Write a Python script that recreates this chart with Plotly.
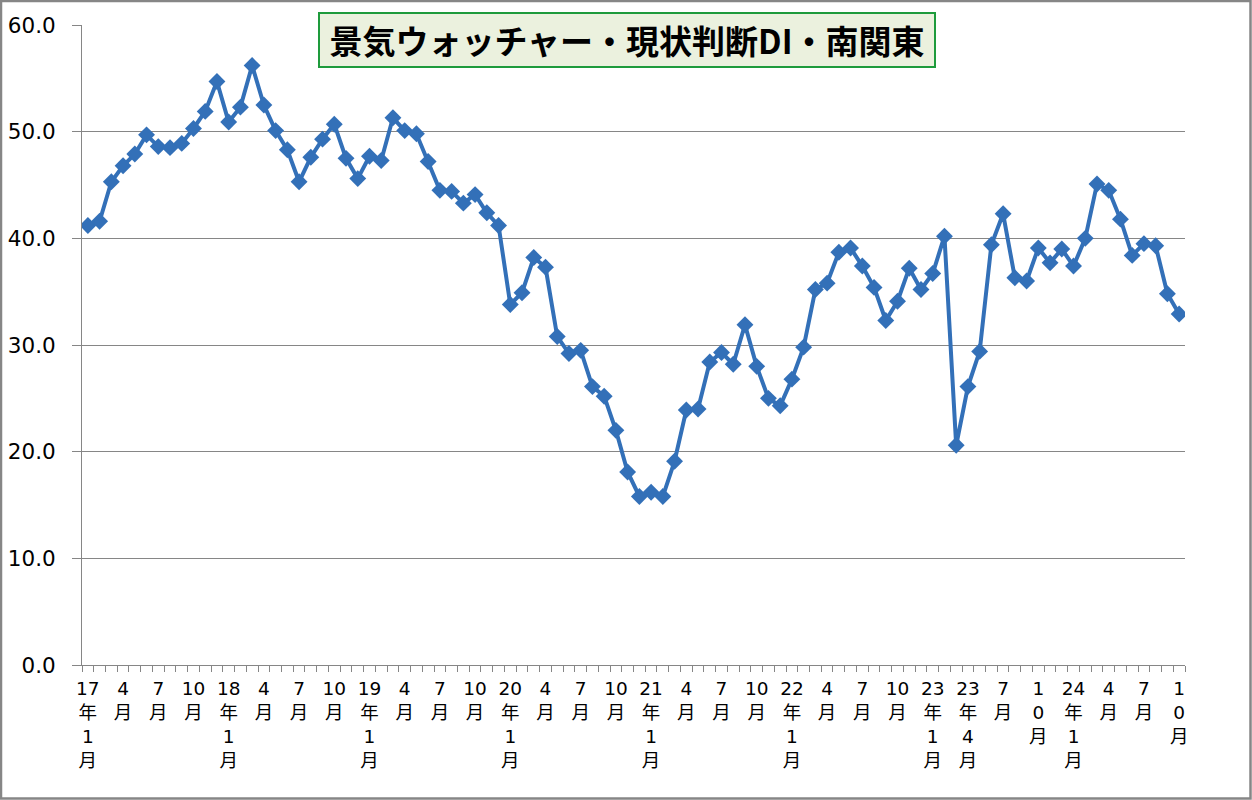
import plotly.graph_objects as go

# ---- data ----
years = ["17", "18", "19", "20", "21", "22", "23", "24"]
categories = [f"{y}年{m}月" for y in years for m in range(1, 13)][:94]

values = [
    41.2, 41.6, 45.3, 46.8, 47.9, 49.7, 48.6, 48.5, 48.9, 50.3, 51.9, 54.7,
    50.9, 52.3, 56.2, 52.5, 50.1, 48.3, 45.3, 47.6, 49.3, 50.7, 47.5, 45.6,
    47.7, 47.3, 51.3, 50.1, 49.8, 47.2, 44.5, 44.4, 43.3, 44.1, 42.4, 41.2,
    33.8, 34.9, 38.2, 37.3, 30.8, 29.2, 29.5, 26.1, 25.2, 22.0, 18.1, 15.8,
    16.2, 15.8, 19.1, 23.9, 24.0, 28.4, 29.3, 28.2, 31.9, 28.0, 25.0, 24.3,
    26.8, 29.8, 35.2, 35.8, 38.7, 39.1, 37.4, 35.4, 32.3, 34.1, 37.2, 35.2,
    36.7, 40.2, 20.6, 26.1, 29.4, 39.4, 42.3, 36.3, 36.0, 39.1, 37.7, 39.0,
    37.4, 40.0, 45.1, 44.5, 41.8, 38.4, 39.5, 39.3, 34.8, 32.9,
]

label_text = [
    "17<br>年<br>1<br>月", "4<br>月", "7<br>月", "10<br>月",
    "18<br>年<br>1<br>月", "4<br>月", "7<br>月", "10<br>月",
    "19<br>年<br>1<br>月", "4<br>月", "7<br>月", "10<br>月",
    "20<br>年<br>1<br>月", "4<br>月", "7<br>月", "10<br>月",
    "21<br>年<br>1<br>月", "4<br>月", "7<br>月", "10<br>月",
    "22<br>年<br>1<br>月", "4<br>月", "7<br>月", "10<br>月",
    "23<br>年<br>1<br>月", "23<br>年<br>4<br>月", "7<br>月", "1<br>0<br>月",
    "24<br>年<br>1<br>月", "4<br>月", "7<br>月", "1<br>0<br>月",
]
label_cats = categories[::3]

y_ticks = [0, 10, 20, 30, 40, 50, 60]

title_text = "景気ウォッチャー・現状判断DI・南関東"

# ---- figure ----
label_map = dict(zip(label_cats, label_text))
tick_text = [label_map.get(c, "") for c in categories]

GRID = "#868686"
LINE = "#3370B8"

fig = go.Figure()
fig.add_trace(go.Scatter(
    x=categories, y=values, mode="lines+markers",
    line=dict(color=LINE, width=4),
    marker=dict(symbol="diamond", size=13, color=LINE),
    showlegend=False, hoverinfo="x+y",
))

fig.update_layout(
    width=1252, height=800,
    margin=dict(l=82, r=67, t=25, b=135, pad=0),
    paper_bgcolor="white", plot_bgcolor="white",
    xaxis=dict(
        type="category", automargin=False,
        range=[-0.5, len(categories) - 0.5],
        tickmode="array", tickvals=categories, ticktext=tick_text,
        tickson="boundaries",
        ticks="outside", ticklen=6, tickcolor=GRID, tickwidth=1,
        showline=True, linecolor=GRID, linewidth=1,
        showgrid=False, tickangle=0,
        tickfont=dict(family="DejaVu Sans, Noto Sans CJK JP", size=18.5, color="black"),
        ticklabelstandoff=7,
    ),
    yaxis=dict(
        automargin=False,
        range=[0, 60], tickmode="array", tickvals=y_ticks,
        tickformat=".1f",
        ticks="outside", ticklen=9, tickcolor=GRID, tickwidth=1,
        showline=True, linecolor=GRID, linewidth=1,
        showgrid=True, gridcolor=GRID, gridwidth=1,
        zeroline=False,
        tickfont=dict(family="DejaVu Sans", size=21.5, color="black"),
        ticklabelstandoff=12,
    ),
    annotations=[dict(
        text="<b>" + title_text + "</b>",
        xref="paper", yref="paper", x=0.4937, y=0.9773,
        xanchor="center", yanchor="middle", showarrow=False,
        font=dict(family="Noto Sans CJK JP", size=33, color="black"),
        bgcolor="#EBF1DE", bordercolor="#1E9B3C", borderwidth=2,
        borderpad=0, width=614, height=52,
    )],
    shapes=[dict(
        type="rect", xref="paper", yref="paper",
        x0=(1 - 82) / 1103, x1=(1250.5 - 82) / 1103,
        y0=(665 - 798.5) / 640, y1=(665 - 1) / 640,
        line=dict(color="#868686", width=2.5), fillcolor="rgba(0,0,0,0)",
        layer="above",
    )],
)

fig.write_html(
    "out.html",
    config={"displayModeBar": False},
    post_script="document.body.style.margin='0';document.body.style.overflow='hidden';",
)
